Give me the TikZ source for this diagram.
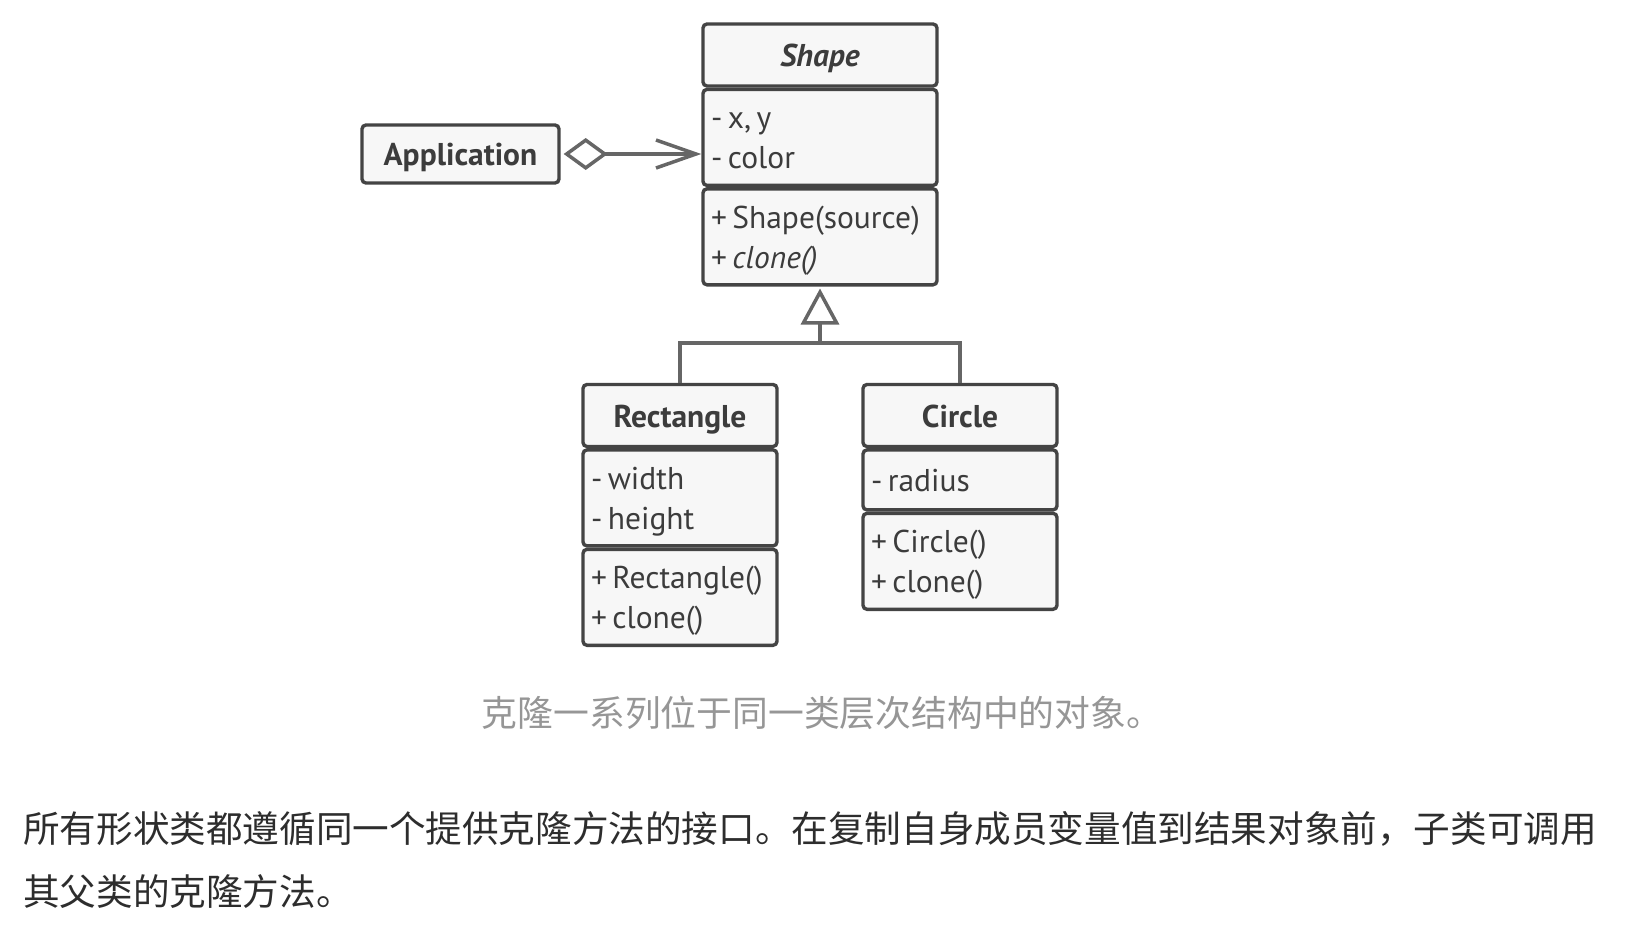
\documentclass[tikz,border=0pt]{standalone}
\usepackage{fontspec}
\setmainfont{PT Sans}
\newfontfamily\cjk{Noto Sans CJK SC}
\usetikzlibrary{arrows.meta, positioning}
\hyphenpenalty=10000
\definecolor{umlborder}{RGB}{68,68,68}
\definecolor{umlfill}{RGB}{247,247,247}
\definecolor{umltext}{RGB}{60,60,60}
\definecolor{umlline}{RGB}{102,102,102}
\definecolor{capgray}{RGB}{150,150,150}
\definecolor{paradark}{RGB}{45,45,45}
\newcommand{\memstrut}{\rule[-7pt]{0pt}{37pt}}
\tikzset{
  compart/.style={rectangle, draw=umlborder, fill=umlfill, rounded corners=4pt,
    line width=3.4pt, text=umltext, inner xsep=8pt, inner ysep=0pt,
    font=\fontsize{31.5}{40}\selectfont,
    execute at begin node={\spaceskip=5.5pt\relax\memstrut},
    execute at end node=\memstrut},
  hdr/.style={compart, minimum width=#1, minimum height=62pt,
    font=\fontsize{31.5}{40}\selectfont\bfseries},
  members/.style={compart, text width=#1, align=left, minimum height=96pt},
  onemember/.style={compart, text width=#1, align=left, minimum height=60pt},
  conn/.style={draw=umlline, line width=3.5pt},
  aggr/.style={conn, shorten <=3pt, {Diamond[open, fill=white, length=44pt, width=32pt]}-{Straight Barb[length=40pt, width=28pt]}},
  inherit/.style={conn, -{Triangle[open, fill=white, length=36pt, width=38pt]}}
}

\begin{document}
\begin{tikzpicture}[x=1pt, y=-1pt, node distance=0pt]
  \useasboundingbox (0,0) rectangle (1650,930);

  % Shape
  \node[hdr=234pt] (shapeHead) at (820,55) {\itshape Shape};
  \node[members=218pt, below=of shapeHead] (shapeAttr) {- x, y\\- color};
  \node[members=218pt, below=of shapeAttr] (shapeOps) {+ Shape(source)\\+ \textit{clone()}};

  % Application
  \node[compart, minimum width=197pt, minimum height=58pt, font=\fontsize{31.5}{40}\selectfont\bfseries]
    (app) at (460.5,154) {Application};

  % Rectangle
  \node[hdr=194pt] (rectHead) at (680,415.5) {Rectangle};
  \node[members=178pt, below=of rectHead] (rectAttr) {- width\\- height};
  \node[members=178pt, below=of rectAttr] (rectOps) {+ Rectangle()\\+ clone()};

  % Circle
  \node[hdr=194pt] (circHead) at (960,415.5) {Circle};
  \node[onemember=178pt, below=of circHead] (circAttr) {- radius};
  \node[members=178pt, below=of circAttr] (circOps) {+ Circle()\\+ clone()};

  \coordinate (joint) at (820,343);

  \draw[aggr] (app.east) -- (app.east -| shapeAttr.west);
  \draw[conn] (circHead.north) |- (joint);
  \draw[inherit] (rectHead.north) |- (joint) -- ([yshift=-2pt]shapeOps.south);

  % captions
  \node[text=capgray, font=\cjk\fontsize{35.8}{36}\selectfont] (caption) at (822,713)
    {克隆一系列位于同一类层次结构中的对象。};
  \node[text=paradark, anchor=west, align=left, inner sep=0pt,
    font=\cjk\fontsize{36.6}{63}\selectfont] (para) at (23,860)
    {所有形状类都遵循同一个提供克隆方法的接口。在复制自身成员变量值到结果对象前，子类可调用\\其父类的克隆方法。};
\end{tikzpicture}
\end{document}
